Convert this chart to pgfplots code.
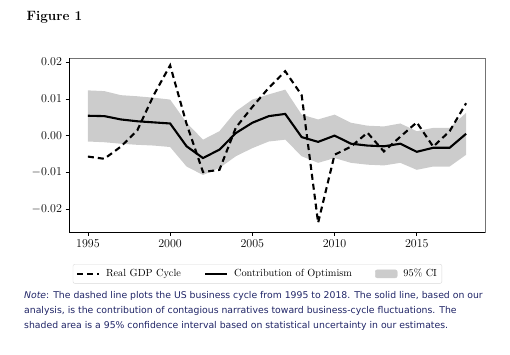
\documentclass[border=0pt]{standalone}
\usepackage{pgfplots}
\pgfplotsset{compat=1.18}
\usepgfplotslibrary{fillbetween}
\usepackage{pgfplotstable}
\usepackage{fontspec}
\newfontfamily\notefont{DejaVu Sans}
\definecolor{navy}{HTML}{1F2466}
\definecolor{band}{HTML}{CCCCCC}
\pgfplotsset{
  longline/.style={legend image code/.code={\draw[##1] (0pt,0pt) -- (22pt,0pt);}},
  bandleg/.style={legend image code/.code={\fill[band] (0pt,-4pt) rectangle (22pt,4pt);}},
}
\pgfplotstableread{
year gdp opt up lo
1995 -0.0057 0.0054 0.0123 -0.0016
1996 -0.0063 0.0053 0.0121 -0.0018
1997 -0.0030 0.0044 0.0110 -0.0022
1998 0.0014 0.0039 0.0107 -0.0025
1999 0.0110 0.0036 0.0103 -0.0027
2000 0.0191 0.0033 0.0098 -0.0031
2001 0.0032 -0.0029 0.0035 -0.0084
2002 -0.0099 -0.0061 -0.0011 -0.0107
2003 -0.0093 -0.0038 0.0012 -0.0088
2004 0.0022 0.0007 0.0066 -0.0056
2005 0.0078 0.0035 0.0098 -0.0034
2006 0.0130 0.0053 0.0112 -0.0016
2007 0.0175 0.0059 0.0125 -0.0011
2008 0.0110 -0.0004 0.0057 -0.0056
2009 -0.0237 -0.0017 0.0044 -0.0074
2010 -0.0052 0.0000 0.0057 -0.0061
2011 -0.0030 -0.0022 0.0035 -0.0074
2012 0.0008 -0.0027 0.0027 -0.0079
2013 -0.0043 -0.0029 0.0025 -0.0081
2014 -0.0003 -0.0022 0.0033 -0.0074
2015 0.0036 -0.0044 0.0012 -0.0093
2016 -0.0030 -0.0033 0.0021 -0.0084
2017 0.0012 -0.0033 0.0021 -0.0084
2018 0.0088 0.0005 0.0062 -0.0052
}\data
\begin{document}
\begin{tikzpicture}[x=1pt,y=1pt]
\path (0,0) rectangle (510,354);
\node[anchor=base west,font=\bfseries\fontsize{13.5}{15}\selectfont] at (23,333) {Figure 1};
\begin{axis}[
  at={(69pt,122pt)}, anchor=south west,
  scale only axis, width=416pt, height=174pt,
  xmin=1993.85, xmax=2019.15,
  ymin=-0.0262, ymax=0.0211,
  xtick={1995,2000,2005,2010,2015},
  ytick={-0.02,-0.01,0,0.01,0.02},
  xticklabel style={/pgf/number format/1000 sep={}},
  yticklabel style={/pgf/number format/fixed,/pgf/number format/fixed zerofill,/pgf/number format/precision=2},
  scaled y ticks=false,
  tick align=outside, tick pos=left,
  major tick length=3.5pt,
  tick style={black, line width=0.6pt},
  axis line style={black!55, line width=0.7pt},
  ticklabel style={font=\fontsize{12.4}{14}\selectfont},
  xticklabel style={yshift=-1pt},
  legend columns=3,
  legend style={at={(0.453,-0.184)}, anchor=north, draw=black!15, rounded corners=2pt,
    font=\fontsize{10.3}{12}\selectfont, /tikz/every even column/.append style={column sep=21pt},
    /tikz/every odd column/.append style={column sep=4pt}, inner sep=3pt},
  legend cell align=left,
  clip=false,
]
\addplot[name path=up, draw=none, forget plot] table[x=year,y=up]{\data};
\addplot[name path=lo, draw=none, forget plot] table[x=year,y=lo]{\data};
\addplot[band, draw=none, forget plot] fill between[of=up and lo];
\addplot[black, line width=2.1pt, dash pattern=on 6pt off 4pt, longline] table[x=year,y=gdp]{\data};
\addlegendentry{Real GDP Cycle}
\addplot[black, line width=2.1pt, longline] table[x=year,y=opt]{\data};
\addlegendentry{Contribution of Optimism}
\addlegendimage{bandleg}
\addlegendentry{95\% CI}
\draw[black, line width=0.8pt] (rel axis cs:0,1) -- (rel axis cs:0,0) -- (rel axis cs:1,0);
\end{axis}
\node[anchor=base west, align=left, text=navy, font=\notefont\fontsize{9.3}{15}\selectfont, inner sep=0pt] at (24,26)
{\textit{Note}: The dashed line plots the US business cycle from 1995 to 2018. The solid line, based on our\\
analysis, is the contribution of contagious narratives toward business-cycle fluctuations. The\\
shaded area is a 95\% confidence interval based on statistical uncertainty in our estimates.};
\end{tikzpicture}
\end{document}
